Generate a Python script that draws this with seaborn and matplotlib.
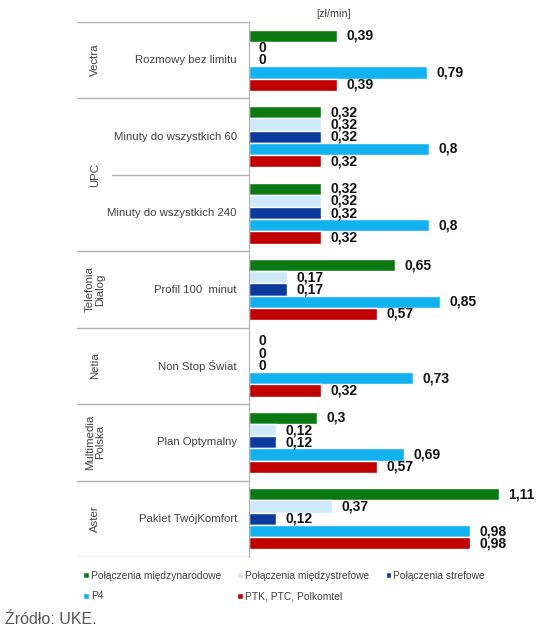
import numpy as np
import pandas as pd
import matplotlib
matplotlib.use("Agg")
import matplotlib.pyplot as plt
import seaborn as sns

companies = ["Vectra", "UPC", "UPC", "Telefonia\nDialog", "Netia", "Multimedia\nPolska", "Aster"]
plans = ["Rozmowy bez limitu", "Minuty do wszystkich 60", "Minuty do wszystkich 240",
         "Profil 100  minut", "Non Stop Świat", "Plan Optymalny", "Pakiet TwójKomfort"]
series = ["Połączenia międzynarodowe", "Połączenia międzystrefowe", "Połączenia strefowe",
          "P4", "PTK, PTC, Polkomtel"]

miedzynarodowe = [0.39, 0.32, 0.32, 0.65, 0, 0.3, 1.11]
miedzystrefowe = [0, 0.32, 0.32, 0.17, 0, 0.12, 0.37]
strefowe = [0, 0.32, 0.32, 0.17, 0, 0.12, 0.12]
p4 = [0.79, 0.8, 0.8, 0.85, 0.73, 0.69, 0.98]
ptk = [0.39, 0.32, 0.32, 0.57, 0.32, 0.57, 0.98]

colors = ["#0b7a12", "#cde9fa", "#0a3a9c", "#12b1f0", "#c00000"]

rows = []
for s, vals in zip(series, [miedzynarodowe, miedzystrefowe, strefowe, p4, ptk]):
    for p, v in zip(plans, vals):
        rows.append({"plan": p, "seria": s, "wartosc": v})
df = pd.DataFrame(rows)

sns.set_style("white")
plt.rcParams["font.family"] = ["Liberation Sans", "DejaVu Sans"]

W, H = 552, 640
fig = plt.figure(figsize=(W / 100, H / 100), dpi=100)
x0, top, bot = 249, 22, 557
ax = fig.add_axes([x0 / W, 1 - bot / H, 1 - x0 / W, (bot - top) / H])

sns.barplot(data=df, y="plan", x="wartosc", hue="seria", order=plans, hue_order=series,
            palette=dict(zip(series, colors)), orient="h", errorbar=None, width=0.8,
            saturation=1, ax=ax)

ax.set_xlim(0, (W - x0) / 225)
ax.set_ylim(6.5, -0.5)
for sp in ["top", "right", "bottom"]:
    ax.spines[sp].set_visible(False)
ax.spines["left"].set_color("#b0b0b0")
ax.set_xticks([])
ax.tick_params(left=False, labelleft=False)
ax.set_xlabel("")
ax.set_ylabel("")

for cont in ax.containers:
    labels = [("%g" % b.get_width()).replace(".", ",") for b in cont]
    ax.bar_label(cont, labels=labels, padding=7, fontsize=10, fontweight="bold", color="#111111")

# lewy panel z nazwami
axl = fig.add_axes([0, 1 - bot / H, x0 / W, (bot - top) / H], sharey=ax)
axl.set_xlim(0, x0)
axl.axis("off")
line_kw = dict(color="#b0b0b0", lw=1)
for y in [-0.5, 0.5, 2.5, 3.5, 4.5, 5.5, 6.5]:
    axl.plot([77, x0], [y, y], **line_kw)
axl.plot([112, x0], [1.5, 1.5], **line_kw)
for i, p in enumerate(plans):
    axl.text(237, i, p, ha="right", va="center", fontsize=8.2, color="#404040")
groups = {}
for i, c in enumerate(companies):
    groups.setdefault(c, []).append(i)
for c, idx in groups.items():
    axl.text(95, np.mean(idx), c, rotation=90, ha="center", va="center",
             fontsize=8.2, color="#404040", linespacing=1.0, multialignment="center")

fig.text(334 / W, 1 - 14 / H, "[zł/min]", ha="center", va="center", fontsize=7.8, color="#404040")

handles, labs = ax.get_legend_handles_labels()
ax.get_legend().remove()
order = [0, 3, 1, 4, 2]
fig.legend([handles[i] for i in order], [labs[i] for i in order], ncol=3,
           loc="upper left", bbox_to_anchor=(83 / W, 1 - 571 / H), frameon=False,
           fontsize=7.4, labelcolor="#404040", handlelength=0.55, handleheight=0.55,
           handletextpad=0.2, columnspacing=1.6, borderaxespad=0, borderpad=0,
           labelspacing=1.0)

fig.text(5 / W, 1 - 620 / H, "Źródło: UKE.", ha="left", va="center", fontsize=11.5, color="#555555")

fig.savefig("out.png", dpi=100)
